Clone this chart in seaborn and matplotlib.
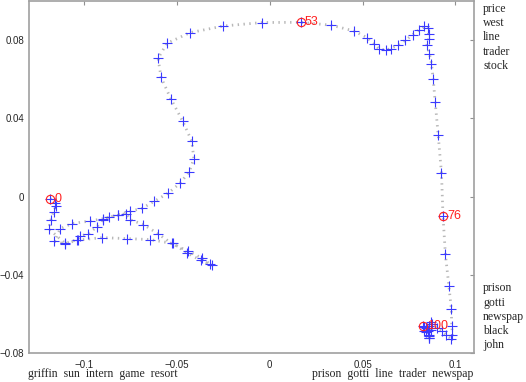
import pandas as pd
import matplotlib
matplotlib.use("Agg")
import matplotlib.pyplot as plt
import seaborn as sns

# -------------------------
# data: trajectory of 101 steps
# -------------------------
xs = [-0.1183, -0.1156, -0.1153, -0.1165, -0.1179, -0.1192, -0.1102, -0.1039, -0.1022, -0.0977,
      -0.0932, -0.0899, -0.0869, -0.0816, -0.0774, -0.0753, -0.0681, -0.0604, -0.0528, -0.0439,
      -0.0367, -0.0323, -0.0310, -0.0373, -0.0445, -0.0523, -0.0645, -0.0770, -0.0905, -0.1036,
      -0.1106, -0.1160, -0.1129, -0.1066, -0.0968, -0.0898, -0.0816, -0.0753, -0.0690, -0.0622,
      -0.0547, -0.0484, -0.0434, -0.0409, -0.0421, -0.0469, -0.0534, -0.0586, -0.0602, -0.0554,
      -0.0430, -0.0251, -0.0041, 0.0167, 0.0332, 0.0452, 0.0523, 0.0561, 0.0586, 0.0624,
      0.0651, 0.0690, 0.0731, 0.0770, 0.0806, 0.0830, 0.0851, 0.0855, 0.0856, 0.0846,
      0.0860, 0.0871, 0.0880, 0.0891, 0.0907, 0.0925, 0.0933, 0.0946, 0.0965, 0.0978,
      0.0980, 0.0984, 0.0976, 0.0948, 0.0930, 0.0903, 0.0876, 0.0867, 0.0855, 0.0859,
      0.0859, 0.0853, 0.0840, 0.0832, 0.0860, 0.0855, 0.0866, 0.0849, 0.0839, 0.0831,
      0.0823]
ys = [-0.0010, -0.0034, -0.0050, -0.0079, -0.0118, -0.0164, -0.0240, -0.0220, -0.0203, -0.0189,
      -0.0155, -0.0118, -0.0104, -0.0096, -0.0087, -0.0118, -0.0143, -0.0189, -0.0240, -0.0280,
      -0.0314, -0.0345, -0.0351, -0.0326, -0.0288, -0.0240, -0.0220, -0.0215, -0.0210, -0.0223,
      -0.0242, -0.0229, -0.0164, -0.0138, -0.0125, -0.0113, -0.0093, -0.0075, -0.0061, -0.0024,
      0.0018, 0.0068, 0.0126, 0.0194, 0.0284, 0.0385, 0.0501, 0.0610, 0.0707, 0.0784,
      0.0838, 0.0872, 0.0890, 0.0891, 0.0876, 0.0847, 0.0813, 0.0782, 0.0757, 0.0748,
      0.0757, 0.0774, 0.0799, 0.0828, 0.0854, 0.0871, 0.0864, 0.0833, 0.0808, 0.0774,
      0.0731, 0.0680, 0.0603, 0.0484, 0.0317, 0.0118, -0.0098, -0.0295, -0.0459, -0.0576,
      -0.0661, -0.0707, -0.0727, -0.0706, -0.0689, -0.0672, -0.0654, -0.0641, -0.0663, -0.0706,
      -0.0723, -0.0689, -0.0692, -0.0689, -0.0714, -0.0724, -0.0684, -0.0674, -0.0671, -0.0668,
      -0.0663]
marked_steps = [0, 53, 76, 100]

top_words = ["price", "west", "line", "trader", "stock"]
low_words = ["prison", "gotti", "newspap", "black", "john"]
left_words = ["griffin", "sun", "intern", "game", "resort"]
right_words = ["prison", "gotti", "line", "trader", "newspap"]

xticks = [-0.1, -0.05, 0, 0.05, 0.1]
xtick_labels = ["\u22120.1", "\u22120.05", "0", "0.05", "0.1"]
yticks = [-0.08, -0.04, 0, 0.04, 0.08]
ytick_labels = ["\u22120.08", "\u22120.04", "0", "0.04", "0.08"]

df = pd.DataFrame({"x": xs, "y": ys, "step": range(len(xs))})

# -------------------------
# style
# -------------------------
sns.set_style("white")
plt.rcParams["font.family"] = ["Liberation Sans", "DejaVu Sans"]

fig = plt.figure(figsize=(5.26, 3.82), dpi=100)
ax = fig.add_axes([0.0542, 0.0759, 0.8469, 0.9215])

# dotted path + step markers
sns.lineplot(data=df, x="x", y="y", sort=False, estimator=None, ax=ax,
             color="#b8b8b8", linestyle=(0, (0.5, 1.6)), linewidth=2.0, zorder=1)
ax.plot(df["x"], df["y"], linestyle="none", marker="+", markersize=7,
        markeredgewidth=0.8, color="#3a3aff", zorder=3)

mk = df[df["step"].isin(marked_steps)]
ax.plot(mk["x"], mk["y"], linestyle="none", marker="o", markersize=6, markerfacecolor="none",
        markeredgecolor="#ff2020", markeredgewidth=0.8, zorder=4)
for x, y, s in zip(mk["x"], mk["y"], mk["step"]):
    ax.annotate(str(int(s)), (x, y), xytext=(3, 0), textcoords="offset points",
                color="#ff2020", fontsize=9, va="center", ha="left", zorder=5)

ax.set_xlim(-0.13, 0.11)
ax.set_ylim(-0.08, 0.1)
ax.set_xticks(xticks)
ax.set_xticklabels(xtick_labels)
ax.set_yticks(yticks)
ax.set_yticklabels(ytick_labels)
ax.set_xlabel("")
ax.set_ylabel("")
ax.tick_params(direction="in", length=3, width=0.8, color="#909090", labelsize=7,
               top=True, right=True)
ax.tick_params(axis="x", pad=5)
ax.tick_params(axis="y", pad=3)
for sp in ax.spines.values():
    sp.set_color("#a0a0a0")
    sp.set_linewidth(1.2)

# word lists around the axes
serif = ["Liberation Serif", "DejaVu Serif"]
for i, w in enumerate(top_words):
    fig.text(483 / 526, 1 - (9 + 14.2 * i) / 382, w, family=serif, fontsize=8.5, va="center", ha="left")
for i, w in enumerate(low_words):
    fig.text(483 / 526, 1 - (288.5 + 14.2 * i) / 382, w, family=serif, fontsize=8.5, va="center", ha="left")
fig.text(28 / 526, 1 - 374.5 / 382, "  ".join(left_words), family=serif, fontsize=8.5, va="center", ha="left")
fig.text(473 / 526, 1 - 374.5 / 382, "  ".join(right_words), family=serif, fontsize=8.5, va="center", ha="right")

fig.savefig("out.png", dpi=100)
plt.close(fig)
